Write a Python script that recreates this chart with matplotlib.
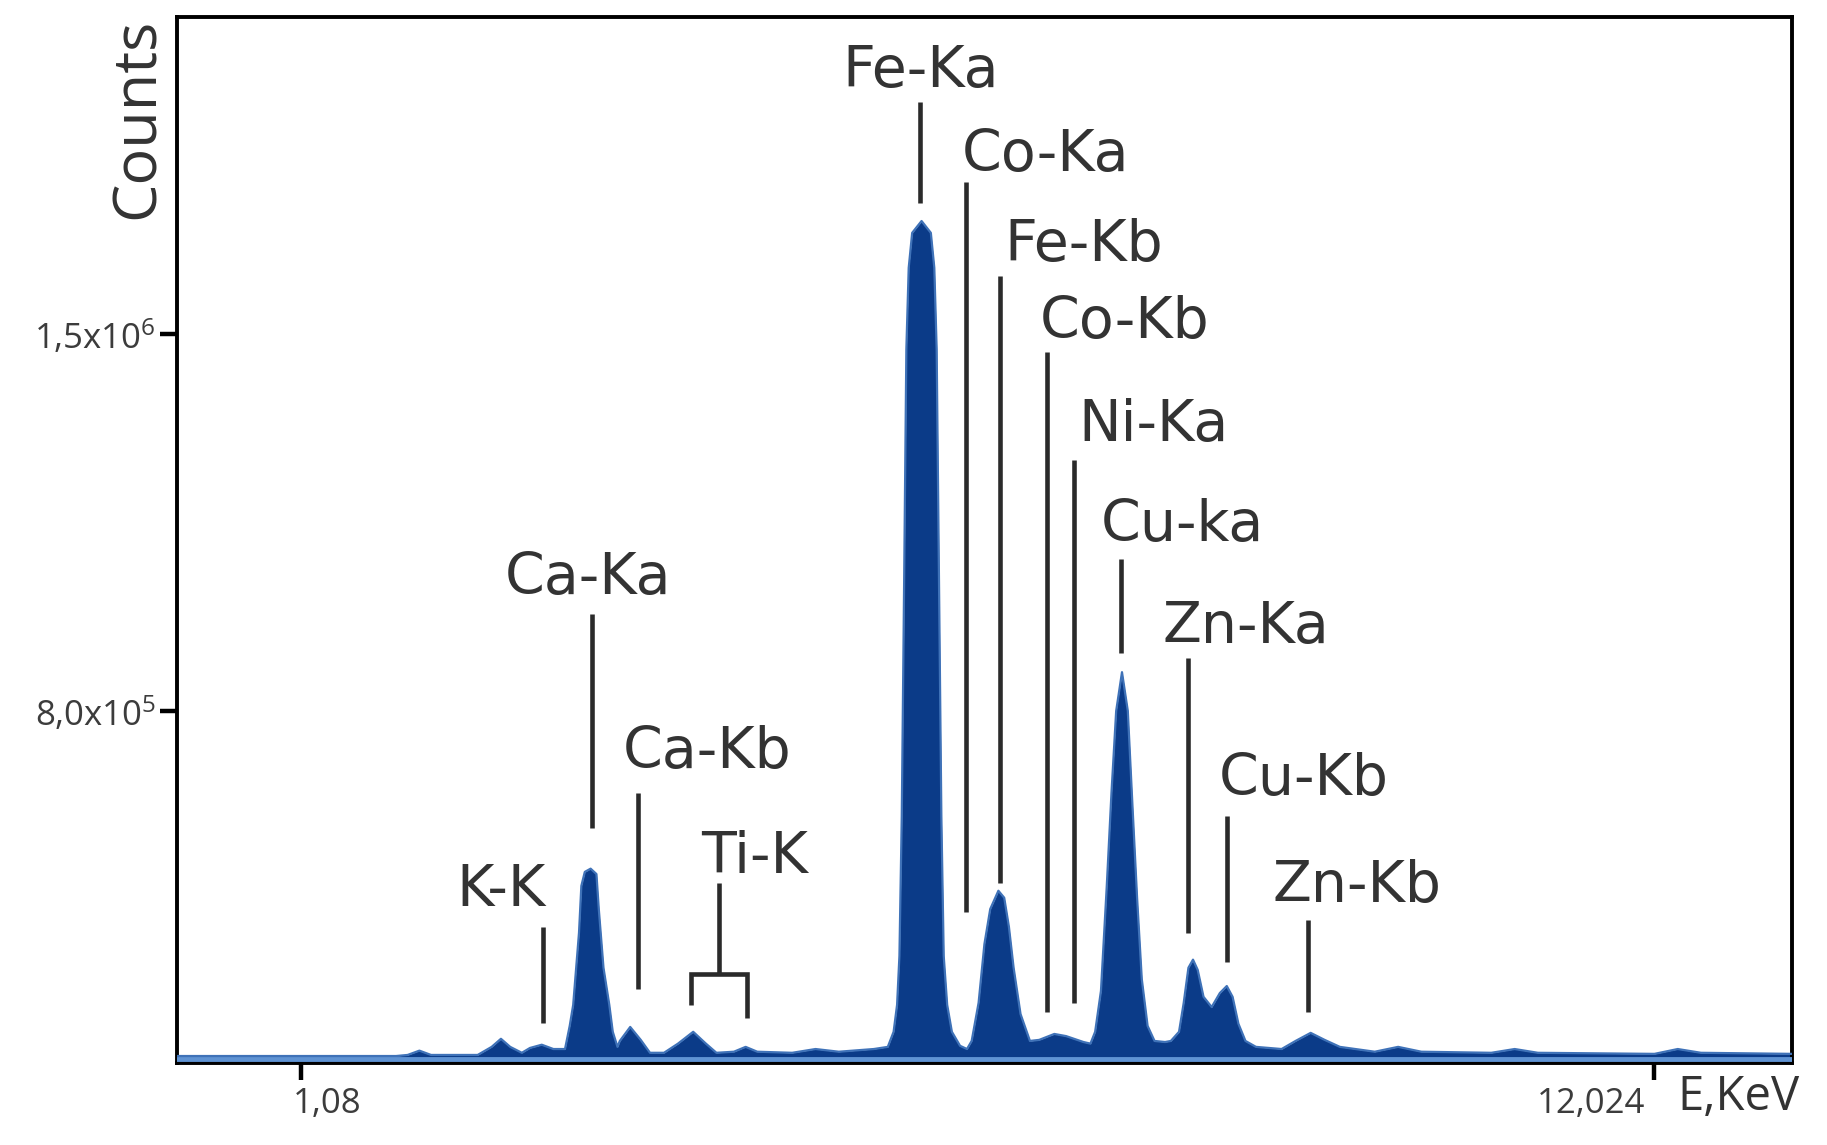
import matplotlib
matplotlib.use('Agg')
import matplotlib.pyplot as plt
from matplotlib.transforms import ScaledTranslation

plt.rcParams['font.family'] = ['Open Sans', 'DejaVu Sans']
plt.rcParams['mathtext.fontset'] = 'custom'
plt.rcParams['mathtext.rm'] = 'Open Sans'
plt.rcParams['mathtext.it'] = 'Open Sans'
plt.rcParams['mathtext.bf'] = 'Open Sans'
plt.rcParams['mathtext.default'] = 'regular'

# ---- spectrum (energy in keV, counts) ----
energy_kev = [0.09, 1.852, 1.946, 2.041, 2.135, 2.512, 2.625, 2.700, 2.775, 2.869,
              2.935, 3.030, 3.124, 3.218, 3.256, 3.284, 3.331, 3.350, 3.378, 3.425,
              3.472, 3.491, 3.529, 3.576, 3.604, 3.642, 3.661, 3.745, 3.830, 3.905,
              4.018, 4.131, 4.254, 4.357, 4.442, 4.583, 4.678, 4.772, 5.054, 5.243,
              5.431, 5.714, 5.827, 5.874, 5.902, 5.921, 5.940, 5.959, 5.977, 5.996,
              6.024, 6.100, 6.175, 6.203, 6.222, 6.241, 6.260, 6.279, 6.307, 6.345,
              6.411, 6.467, 6.505, 6.561, 6.608, 6.655, 6.721, 6.768, 6.806, 6.844,
              6.900, 6.976, 7.051, 7.173, 7.268, 7.409, 7.465, 7.503, 7.550, 7.597,
              7.635, 7.673, 7.720, 7.767, 7.804, 7.842, 7.880, 7.927, 7.983, 8.068,
              8.115, 8.181, 8.219, 8.257, 8.294, 8.332, 8.379, 8.445, 8.511, 8.567,
              8.614, 8.661, 8.718, 8.803, 9.010, 9.123, 9.245, 9.358, 9.481, 9.763,
              9.952, 10.140, 10.705, 10.894, 11.082, 12.024, 12.212, 12.400, 13.135]
counts = [159e3, 159e3, 161e3, 169e3, 161e3, 161e3, 176e3, 191e3, 176e3, 165e3,
          174e3, 180e3, 172e3, 172e3, 215e3, 254e3, 388e3, 475e3, 501e3, 507e3,
          497e3, 432e3, 323e3, 254e3, 204e3, 176e3, 187e3, 213e3, 189e3, 165e3,
          165e3, 182e3, 204e3, 182e3, 165e3, 167e3, 176e3, 167e3, 165e3, 172e3,
          167e3, 172e3, 176e3, 204e3, 254e3, 345e3, 605e3, 1038e3, 1472e3, 1623e3,
          1688e3, 1710e3, 1688e3, 1623e3, 1472e3, 1038e3, 605e3, 345e3, 254e3, 204e3,
          178e3, 172e3, 187e3, 258e3, 367e3, 432e3, 466e3, 453e3, 399e3, 323e3,
          237e3, 187e3, 189e3, 200e3, 196e3, 185e3, 182e3, 204e3, 280e3, 475e3,
          648e3, 800e3, 872e3, 800e3, 627e3, 453e3, 302e3, 215e3, 187e3, 185e3,
          187e3, 204e3, 258e3, 323e3, 338e3, 319e3, 269e3, 250e3, 276e3, 289e3,
          269e3, 219e3, 187e3, 176e3, 172e3, 187e3, 202e3, 189e3, 176e3, 167e3,
          176e3, 167e3, 165e3, 172e3, 165e3, 163e3, 172e3, 165e3, 163e3]

# ---- axes ticks ----
x_ticks = [1.08, 12.024]
x_tick_labels = ['1,08', '12,024']
y_ticks = [8.0e5, 1.5e6]
y_tick_labels = ['8,0x10$^{5}$', '1,5x10$^{6}$']

# ---- peak annotations ----
peak_names = ['K-K', 'Ca-Ka', 'Ca-Kb', 'Ti-K', 'Fe-Ka', 'Co-Ka', 'Fe-Kb',
              'Co-Kb', 'Ni-Ka', 'Cu-ka', 'Zn-Ka', 'Cu-Kb', 'Zn-Kb']
label_energy = [2.700, 3.406, 4.367, 4.753, 6.090, 7.098, 7.409,
                7.739, 7.974, 8.209, 8.718, 9.189, 9.622]
label_counts = [438e3, 1017e3, 694e3, 499e3, 1959e3, 1803e3, 1636e3,
                1493e3, 1301e3, 1116e3, 926e3, 644e3, 445e3]
marker_energy = [3.039, 3.435, 3.811, 4.461, 6.090, 6.458, 6.731,
                 7.117, 7.334, 7.710, 8.257, 8.567, 9.227]
marker_top = [399e3, 980e3, 648e3, 481e3, 1931e3, 1782e3, 1608e3,
              1467e3, 1266e3, 1082e3, 898e3, 605e3, 412e3]
marker_bottom = [221e3, 583e3, 284e3, 312e3, 1743e3, 427e3, 481e3,
                 241e3, 258e3, 908e3, 388e3, 334e3, 241e3]
ti_bracket_energy = [4.235, 4.687]
ti_bracket_bottom = [254e3, 230e3]

fig = plt.figure(figsize=(18.27, 11.45), dpi=100)
ax = fig.add_axes([0.0969, 0.0716, 0.8839, 0.9136])

x_lo, x_hi = 0.082, 13.135
y_lo, y_hi = 146e3, 2.089e6

ax.fill_between(energy_kev, y_lo, counts, color='#0b3b88', lw=0, zorder=2)
ax.plot(energy_kev, counts, color='#3f72b8', lw=1.6, zorder=3)
ax.axhline(153e3, color='#5f93d3', lw=3.5, zorder=3)

txt_color = '#333333'
line_color = '#2a2a2a'
for name, lx, ly, mx, mt, mb in zip(peak_names, label_energy, label_counts,
                                    marker_energy, marker_top, marker_bottom):
    ax.text(lx, ly, name, ha='center', va='baseline', fontsize=41,
            family=['DejaVu Sans'], color=txt_color, zorder=5)
    ax.plot([mx, mx], [mt, mb], color=line_color, lw=3.3,
            solid_capstyle='butt', zorder=4)
    if name == 'Ti-K':
        ax.plot([ti_bracket_energy[0], ti_bracket_energy[0], ti_bracket_energy[1],
                 ti_bracket_energy[1]],
                [ti_bracket_bottom[0], mb, mb, ti_bracket_bottom[1]],
                color=line_color, lw=3.3, solid_capstyle='butt',
                solid_joinstyle='miter', zorder=4)

ax.set_xlim(x_lo, x_hi)
ax.set_ylim(y_lo, y_hi)
ax.set_xticks(x_ticks)
ax.set_xticklabels(x_tick_labels)
ax.set_yticks(y_ticks)
ax.set_yticklabels(y_tick_labels)
ax.tick_params(axis='both', direction='out', length=12, width=3.2,
               color='black', labelsize=25, labelcolor='#3c3c3c')
ax.tick_params(axis='x', pad=5)
ax.tick_params(axis='y', pad=3)
for sp in ax.spines.values():
    sp.set_linewidth(2.8)
    sp.set_color('black')

xl = ax.get_xticklabels()
xl[0].set_ha('left')
xl[0].set_transform(xl[0].get_transform() + ScaledTranslation(-0.08, 0, fig.dpi_scale_trans))
xl[1].set_ha('right')
xl[1].set_transform(xl[1].get_transform() + ScaledTranslation(-0.09, 0, fig.dpi_scale_trans))

ax.set_xlabel('E,KeV', fontsize=34, color='#333333', ha='right', va='top')
ax.xaxis.set_label_coords(1.005, -0.01)
ax.set_ylabel('Counts', fontsize=44, color='#333333')
ax.yaxis.set_label_coords(-0.006, 0.903)

fig.savefig('out.png', dpi=100)
